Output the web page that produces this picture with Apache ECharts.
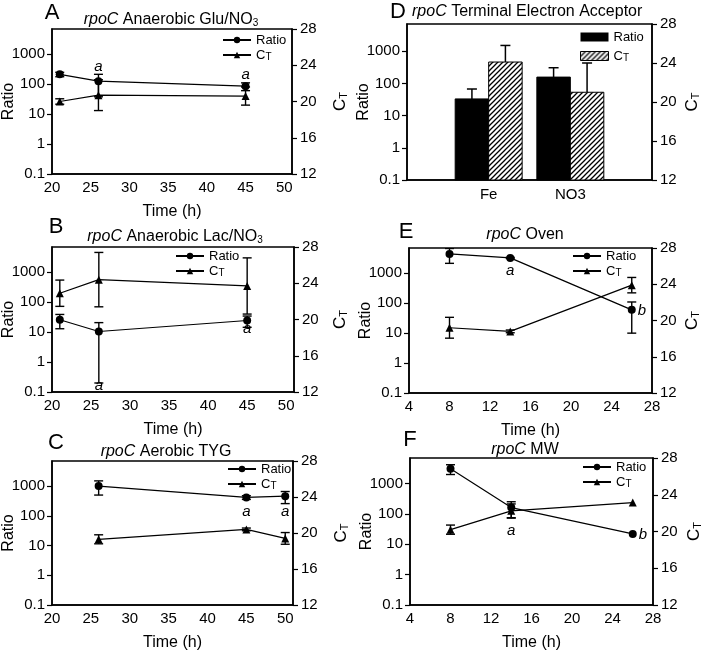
<!DOCTYPE html>
<html>
<head>
<meta charset="utf-8">
<script src="https://cdn.jsdelivr.net/npm/echarts@6/dist/echarts.min.js"></script>
<style>
  html, body { margin: 0; padding: 0; background: #fff; }
  #chart { width: 705px; height: 652px; }
</style>
</head>
<body>
<div id="chart"></div>
<script>
// ---------- data ----------
// A  rpoC Anaerobic Glu/NO3
const timeA = [21, 26, 45];
const ratioA = [214, 126, 86];
const ratioErrA = [36, 88, 25];
const ctA = [20.0, 20.7, 20.6];
const ctErrA = [0.3, 1.7, 1.0];
const marksA = [[26, 375, 'a'], [45, 200, 'a']];

// B  rpoC Anaerobic Lac/NO3
const timeB = [21, 26, 45];
const ratioB = [26, 10.5, 24.5];
const ratioErrB = [13, 10.3, 10];
const ctB = [22.9, 24.4, 23.7];
const ctErrB = [1.45, 3.0, 3.1];
const marksB = [[26, 0.16, 'a'], [45, 12.6, 'a']];

// C  rpoC Aerobic TYG
const timeC = [26, 45, 50];
const ratioC = [1000, 417, 458];
const ratioErrC = [500, 60, 200];
const ctC = [19.3, 20.4, 19.4];
const ctErrC = [0.5, 0.15, 0.65];
const marksC = [[45, 132, 'a'], [50, 132, 'a']];

// D  rpoC Terminal Electron Acceptor
const acceptors = ['Fe', 'NO3'];
const ratioD = [33, 157];
const ratioErrD = [34, 150];
const ctD = [24.1, 21.0];
const ctErrD = [1.7, 3.0];

// E  rpoC Oven
const timeE = [8, 14, 26];
const ratioE = [4450, 3270, 60];
const ratioErrE = [2300, 150, 50];
const ctE = [19.2, 18.8, 23.9];
const ctErrE = [1.15, 0.15, 0.85];
const marksE = [[14, 1170, 'a'], [27, 54, 'b']];

// F  rpoC MW
const timeF = [8, 14, 26];
const ratioF = [3100, 163, 22];
const ratioErrF = [1100, 90, 0];
const ctF = [20.2, 22.25, 23.15];
const ctErrF = [0.5, 0.75, 0];
const marksF = [[14, 27, 'a'], [27, 20, 'b']];

const ratioTicks = [0.1, 1, 10, 100, 1000];
const ctTicks = [12, 16, 20, 24, 28];

// ---------- helpers ----------
const FONT = '"Liberation Sans", Arial, sans-serif';
const black = '#000';

// diagonal hatch for the CT bars
const hatch = (function () {
  const c = document.createElement('canvas');
  c.width = 5; c.height = 5;
  const ctx = c.getContext('2d');
  ctx.fillStyle = '#fff';
  ctx.fillRect(0, 0, 5, 5);
  ctx.strokeStyle = '#000';
  ctx.lineWidth = 1.3;
  ctx.beginPath();
  ctx.moveTo(0, 5); ctx.lineTo(5, 0);
  ctx.moveTo(-1, 1); ctx.lineTo(1, -1);
  ctx.moveTo(4, 6); ctx.lineTo(6, 4);
  ctx.stroke();
  return { image: c, repeat: 'repeat' };
})();

function errorBar(params, api) {
  const x = api.value(0), lo = api.value(1), hi = api.value(2);
  if (!(hi > lo)) return;
  const a = api.coord([x, hi]);
  const b = api.coord([x, lo]);
  const cap = 4.5;
  const st = { stroke: black, lineWidth: 1.4 };
  return {
    type: 'group',
    children: [
      { type: 'line', shape: { x1: a[0], y1: a[1], x2: b[0], y2: b[1] }, style: st },
      { type: 'line', shape: { x1: a[0] - cap, y1: a[1], x2: a[0] + cap, y2: a[1] }, style: st },
      { type: 'line', shape: { x1: b[0] - cap, y1: b[1], x2: b[0] + cap, y2: b[1] }, style: st }
    ]
  };
}

function barRender(side, fill) {
  return function (params, api) {
    const cs = params.coordSys;
    const top = api.coord([api.value(0), api.value(1)]);
    const errTop = api.coord([api.value(0), api.value(1) + api.value(2)]);
    const w = api.size([1, 0])[0] * 0.41;
    const x0 = side < 0 ? top[0] - w : top[0];
    const mid = x0 + w / 2;
    const bottom = cs.y + cs.height;
    const st = { stroke: black, lineWidth: 1.5 };
    return {
      type: 'group',
      children: [
        { type: 'line', shape: { x1: mid, y1: top[1], x2: mid, y2: errTop[1] }, style: st },
        { type: 'line', shape: { x1: mid - 5, y1: errTop[1], x2: mid + 5, y2: errTop[1] }, style: st },
        { type: 'rect', shape: { x: x0, y: top[1], width: w, height: bottom - top[1] },
          style: { fill: fill, stroke: black, lineWidth: 1 } }
      ]
    };
  };
}

const subRich = { sub: { fontSize: 11, fontFamily: FONT, color: black, verticalAlign: 'bottom', padding: [6, 0, 0, 0] } };

function ratioAxis(g) {
  return {
    type: 'log', logBase: 10, gridIndex: g, position: 'left', min: 0.1, max: 7000,
    name: 'Ratio', nameLocation: 'middle', nameGap: 35, nameMoveOverlap: false,
    nameTextStyle: { fontSize: 16, color: black, fontFamily: FONT },
    axisLine: { show: true, lineStyle: { color: black, width: 1.5 } },
    axisTick: { show: true, length: 5, lineStyle: { color: black, width: 1.2 } },
    axisLabel: {
      fontSize: 15, color: black, margin: 7, showMaxLabel: false,
      formatter: v => {
        const n = +Number(v).toPrecision(3);
        return ratioTicks.indexOf(n) >= 0 ? String(n) : '';
      }
    },
    splitLine: { show: false }
  };
}

function ctAxis(g, gap) {
  return {
    type: 'value', gridIndex: g, position: 'right',
    min: ctTicks[0], max: ctTicks[ctTicks.length - 1], interval: 4,
    name: 'C{sub|T}', nameLocation: 'middle', nameGap: gap, nameMoveOverlap: false,
    nameTextStyle: { fontSize: 17, color: black, fontFamily: FONT, rich: subRich },
    axisLine: { show: true, lineStyle: { color: black, width: 1.5 } },
    axisTick: { show: true, length: 5, lineStyle: { color: black, width: 1.2 } },
    axisLabel: { fontSize: 15, color: black, margin: 8 },
    splitLine: { show: false }
  };
}

function timeAxis(g, min, max, step, showMax) {
  return {
    type: 'value', gridIndex: g, min: min, max: max, interval: step,
    name: 'Time (h)', nameLocation: 'middle', nameGap: 30,
    nameTextStyle: { fontSize: 16, color: black, fontFamily: FONT },
    axisLine: { show: true, onZero: false, lineStyle: { color: black, width: 1.5 } },
    axisTick: { show: false },
    axisLabel: { fontSize: 15, color: black, margin: 6, showMaxLabel: showMax },
    splitLine: { show: false }
  };
}

function timePanel(g, key, time, ratio, ratioErr, ct, ctErr, marks) {
  const yl = 2 * g, yr = 2 * g + 1;
  return [
    {
      type: 'custom', name: 'ratioErr' + key, xAxisIndex: g, yAxisIndex: yl, clip: true, silent: true, z: 2,
      renderItem: errorBar, encode: { x: 0, y: [1, 2] },
      data: time.map((t, i) => [t, ratio[i] - ratioErr[i], ratio[i] + ratioErr[i]])
    },
    {
      type: 'custom', name: 'ctErr' + key, xAxisIndex: g, yAxisIndex: yr, clip: true, silent: true, z: 2,
      renderItem: errorBar, encode: { x: 0, y: [1, 2] },
      data: time.map((t, i) => [t, ct[i] - ctErr[i], ct[i] + ctErr[i]])
    },
    {
      type: 'line', name: 'Ratio ' + key, xAxisIndex: g, yAxisIndex: yl, z: 3,
      data: time.map((t, i) => [t, ratio[i]]),
      symbol: 'circle', symbolSize: 8,
      itemStyle: { color: black }, lineStyle: { color: black, width: 1.2 }
    },
    {
      type: 'line', name: 'CT ' + key, xAxisIndex: g, yAxisIndex: yr, z: 3,
      data: time.map((t, i) => [t, ct[i]]),
      symbol: 'triangle', symbolSize: 8,
      itemStyle: { color: black }, lineStyle: { color: black, width: 1.2 }
    },
    {
      type: 'custom', name: 'marks' + key, xAxisIndex: g, yAxisIndex: yl, silent: true, z: 4,
      encode: { x: 0, y: 1 },
      data: marks.map(m => [m[0], m[1]]),
      renderItem: function (params, api) {
        const p = api.coord([api.value(0), api.value(1)]);
        return {
          type: 'text', x: p[0], y: p[1],
          style: { text: marks[params.dataIndex][2], fontSize: 15, fontStyle: 'italic', fontFamily: FONT,
                   fill: black, align: 'center', verticalAlign: 'middle' }
        };
      }
    }
  ];
}

function legendFor(key, left, top, rect) {
  return {
    left: left, top: top, orient: 'vertical', selectedMode: false, padding: 0,
    itemWidth: 28, itemHeight: rect ? 9 : 8, itemGap: rect ? 5 : 1,
    data: rect
      ? [{ name: 'Ratio ' + key, icon: 'rect', itemStyle: { color: black } },
         { name: 'CT ' + key, icon: 'rect', itemStyle: { color: hatch, borderColor: black, borderWidth: 1 } }]
      : ['Ratio ' + key, 'CT ' + key],
    formatter: name => name.indexOf('Ratio') === 0 ? 'Ratio' : 'C{sub|T}',
    textStyle: { fontSize: 13, color: black, fontFamily: FONT, lineHeight: 14,
                 rich: { sub: { fontSize: 10, fontFamily: FONT, color: black, verticalAlign: 'bottom', padding: [5, 0, 0, 0] } } }
  };
}

function heading(x, y, text, align) {
  return {
    type: 'text', x: x, y: y, silent: true,
    style: {
      text: text, fill: black, fontSize: 16, fontFamily: FONT,
      align: align || 'center', verticalAlign: 'middle',
      rich: {
        i: { fontSize: 16, fontFamily: FONT, fontStyle: 'italic', fill: black },
        s: { fontSize: 10, fontFamily: FONT, fill: black, verticalAlign: 'bottom', padding: [6, 0, 0, 0] }
      }
    }
  };
}

function letter(x, y, t) {
  return { type: 'text', x: x, y: y, silent: true,
    style: { text: t, fill: black, fontSize: 22, fontFamily: FONT, align: 'center', verticalAlign: 'middle' } };
}

const frame = { show: true, borderColor: black, borderWidth: 1.5, backgroundColor: 'transparent' };

const option = {
  animation: false,
  backgroundColor: '#fff',
  textStyle: { fontFamily: FONT, color: black },
  grid: [
    Object.assign({ left: 51, top: 29, width: 241, height: 145 }, frame),   // A
    Object.assign({ left: 52, top: 247, width: 242, height: 145 }, frame),  // B
    Object.assign({ left: 50, top: 461, width: 243, height: 144 }, frame),  // C
    Object.assign({ left: 407, top: 24, width: 245, height: 156 }, frame),  // D
    Object.assign({ left: 409, top: 248, width: 243, height: 145 }, frame), // E
    Object.assign({ left: 410, top: 458, width: 243, height: 147 }, frame)  // F
  ],
  xAxis: [
    timeAxis(0, 20, 51, 5, false),
    timeAxis(1, 20, 51, 5, false),
    timeAxis(2, 20, 51, 5, false),
    {
      type: 'category', gridIndex: 3, data: [''].concat(acceptors, ['']), boundaryGap: false,
      axisLine: { show: true, lineStyle: { color: black, width: 1.5 } },
      axisTick: { show: false },
      axisLabel: { fontSize: 15, color: black, margin: 7 },
      splitLine: { show: false }
    },
    timeAxis(4, 4, 28, 4, true),
    timeAxis(5, 4, 28, 4, true)
  ],
  yAxis: [
    ratioAxis(0), ctAxis(0, 40),
    ratioAxis(1), ctAxis(1, 38),
    ratioAxis(2), ctAxis(2, 40),
    ratioAxis(3), ctAxis(3, 32),
    ratioAxis(4), ctAxis(4, 32),
    ratioAxis(5), ctAxis(5, 33)
  ],
  legend: [
    legendFor('A', 222, 33),
    legendFor('B', 175, 249),
    legendFor('C', 227, 462),
    legendFor('D', 580, 30, true),
    legendFor('E', 572, 249),
    legendFor('F', 582, 460)
  ],
  series: [].concat(
    timePanel(0, 'A', timeA, ratioA, ratioErrA, ctA, ctErrA, marksA),
    timePanel(1, 'B', timeB, ratioB, ratioErrB, ctB, ctErrB, marksB),
    timePanel(2, 'C', timeC, ratioC, ratioErrC, ctC, ctErrC, marksC),
    [
      {
        type: 'custom', name: 'Ratio D', xAxisIndex: 3, yAxisIndex: 6, silent: true,
        itemStyle: { color: black }, encode: { x: 0, y: 1 },
        renderItem: barRender(-1, black),
        data: acceptors.map((c, i) => [c, ratioD[i], ratioErrD[i]])
      },
      {
        type: 'custom', name: 'CT D', xAxisIndex: 3, yAxisIndex: 7, silent: true,
        itemStyle: { color: hatch, borderColor: black }, encode: { x: 0, y: 1 },
        renderItem: barRender(1, hatch),
        data: acceptors.map((c, i) => [c, ctD[i], ctErrD[i]])
      }
    ],
    timePanel(4, 'E', timeE, ratioE, ratioErrE, ctE, ctErrE, marksE),
    timePanel(5, 'F', timeF, ratioF, ratioErrF, ctF, ctErrF, marksF)
  ),
  graphic: [
    letter(52, 13, 'A'),
    heading(171, 20, '{i|rpoC} Anaerobic Glu/NO{s|3}'),
    letter(56, 227, 'B'),
    heading(175, 237, '{i|rpoC} Anaerobic Lac/NO{s|3}'),
    letter(56, 443, 'C'),
    heading(166, 452, '{i|rpoC} Aerobic TYG'),
    letter(398, 12, 'D'),
    heading(412, 12, '{i|rpoC} Terminal Electron Acceptor', 'left'),
    letter(406, 232, 'E'),
    heading(525, 235, '{i|rpoC} Oven'),
    letter(410, 440, 'F'),
    heading(525, 450, '{i|rpoC} MW')
  ]
};

const chart = echarts.init(document.getElementById('chart'));
chart.setOption(option);
</script>
</body>
</html>
